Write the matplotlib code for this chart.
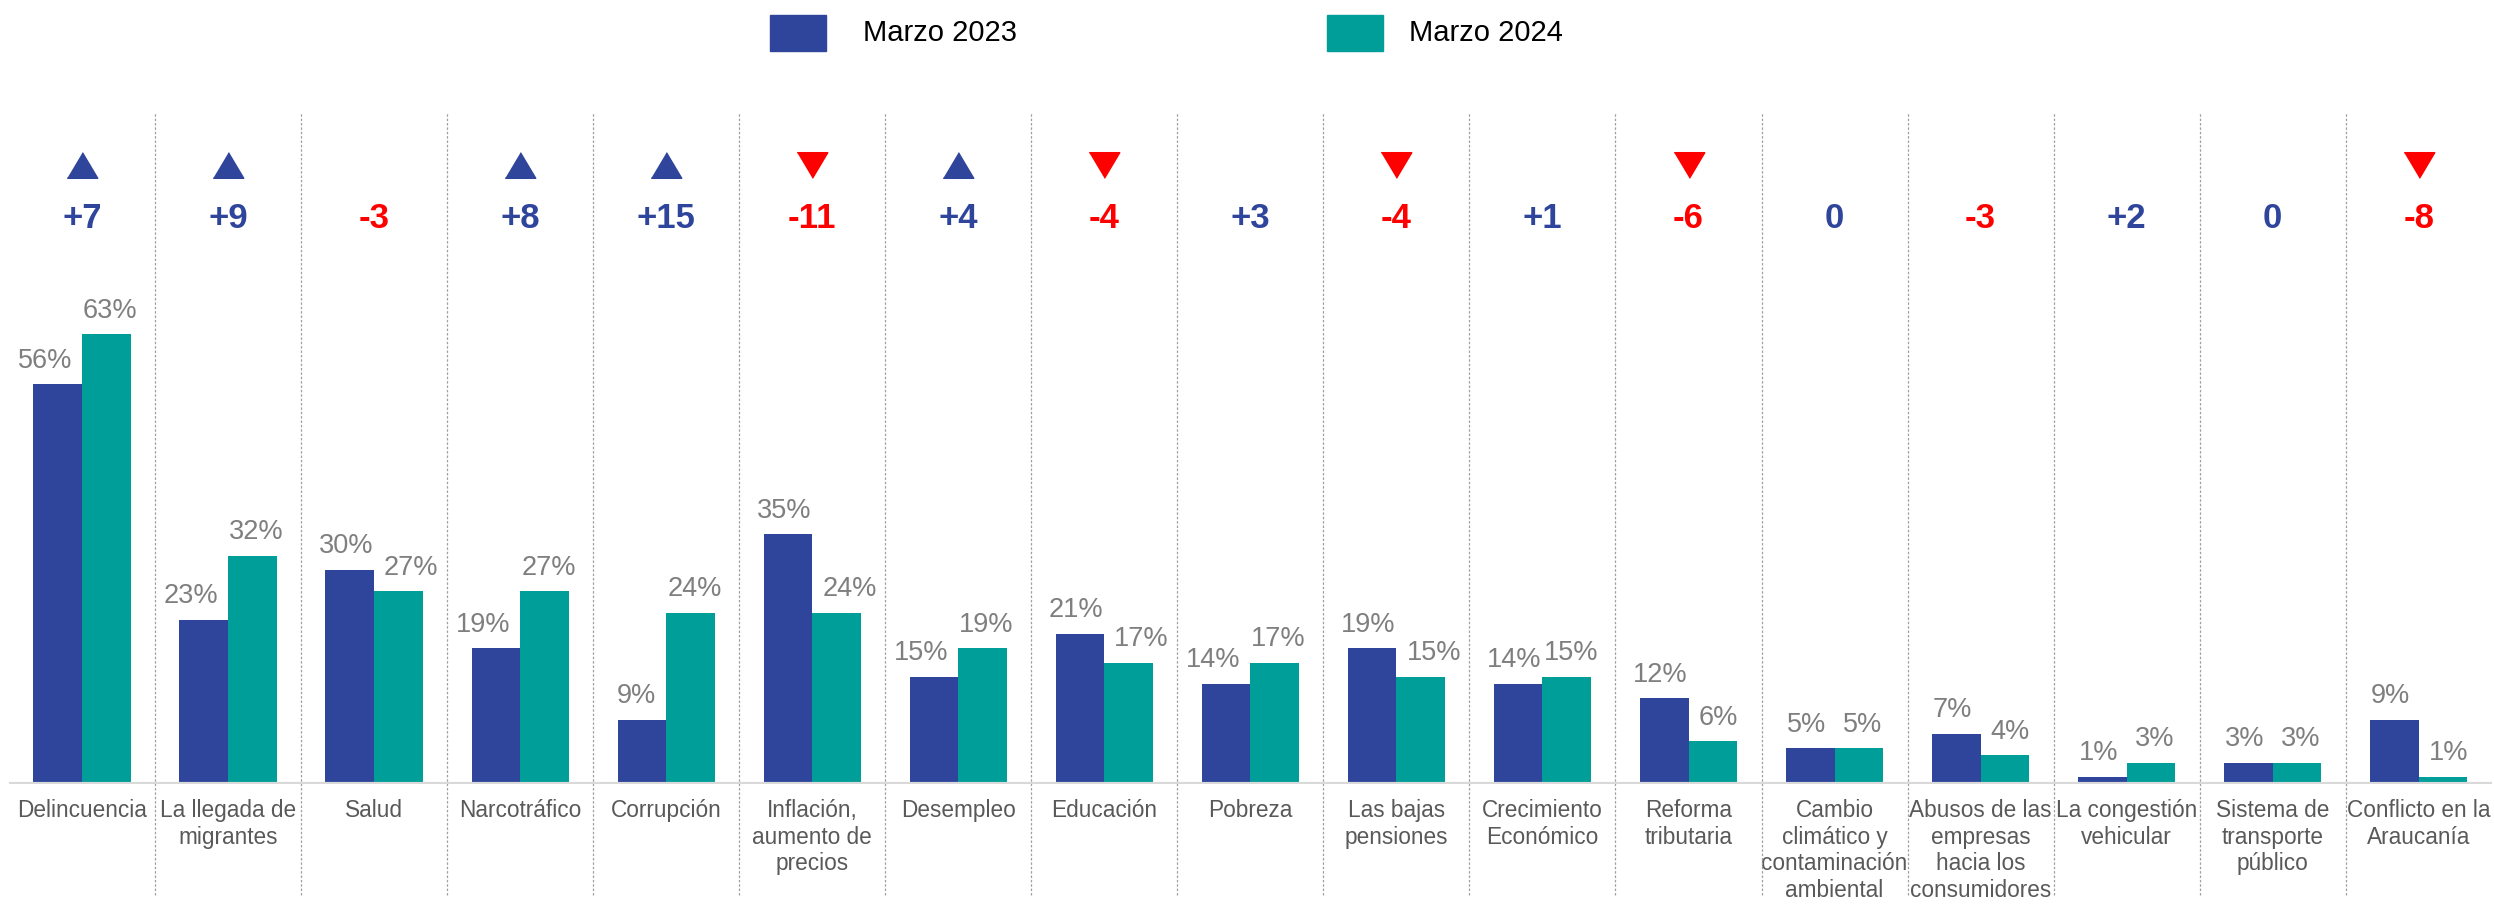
import numpy as np
import matplotlib.pyplot as plt
from matplotlib.patches import Rectangle

plt.rcParams['font.family'] = ['Liberation Sans', 'DejaVu Sans']

categorias = ['Delincuencia', 'La llegada de\nmigrantes', 'Salud', 'Narcotráfico', 'Corrupción',
              'Inflación,\naumento de\nprecios', 'Desempleo', 'Educación', 'Pobreza',
              'Las bajas\npensiones', 'Crecimiento\nEconómico', 'Reforma\ntributaria',
              'Cambio\nclimático y\ncontaminación\nambiental',
              'Abusos de las\nempresas\nhacia los\nconsumidores',
              'La congestión\nvehicular', 'Sistema de\ntransporte\npúblico',
              'Conflicto en la\nAraucanía']
series = ['Marzo 2023', 'Marzo 2024']
marzo_2023 = [56, 23, 30, 19, 9, 35, 15, 21, 14, 19, 14, 12, 5, 7, 1, 3, 9]
marzo_2024 = [63, 32, 27, 27, 24, 24, 19, 17, 17, 15, 15, 6, 5, 4, 3, 3, 1]
diferencia = [7, 9, -3, 8, 15, -11, 4, -4, 3, -4, 1, -6, 0, -3, 2, 0, -8]
# flecha de cambio significativo: 1 sube, -1 baja, 0 nada
flecha = [1, 1, 0, 1, 1, -1, 1, -1, 0, -1, 0, -1, 0, 0, 0, 0, -1]

azul = '#2F459B'
verde = '#009E99'
rojo = '#FF0000'
gris = '#7F7F7F'

fig = plt.figure(figsize=(24.94, 9.05), dpi=100)
ax = fig.add_axes([0.0036, 0.1337, 0.9955, 0.749])

x = np.arange(len(categorias))
w = 0.333
ax.bar(x - w / 2, marzo_2023, w, color=azul)
ax.bar(x + w / 2, marzo_2024, w, color=verde)

ax.set_xlim(-0.5, len(categorias) - 0.5)
ax.set_ylim(0, 95)

# etiquetas de porcentaje; se corren a un lado si chocan con la barra vecina
etiquetas = []
for i in range(len(categorias)):
    for v, otro, lado in ((marzo_2023[i], marzo_2024[i], -1), (marzo_2024[i], marzo_2023[i], 1)):
        t = ax.annotate(f'{v}%', (i + lado * w / 2, v), xytext=(0, 12), textcoords='offset points',
                        ha='center', va='baseline', fontsize=19.5, color=gris)
        etiquetas.append((t, v, otro, lado))

fig.canvas.draw()
r = fig.canvas.get_renderer()
bar_px = w * ax.get_window_extent().width / len(categorias)
for t, v, otro, lado in etiquetas:
    ancho = t.get_window_extent(r).width
    dx = 4
    if otro - v > 2:
        dx += max(0, ancho / 2 - bar_px / 2 + 6)
    t.xyann = (lado * dx * 0.72, 12)

# separadores
ax.vlines(x[:-1] + 0.5, -15.5, 94, colors='#A0A0A0', linestyles=(0, (2, 1.5)), linewidth=0.9, clip_on=False)
ax.axhline(0, color='#D9D9D9', linewidth=3, zorder=3)

for i, d in enumerate(diferencia):
    txt = f'+{d}' if d > 0 else str(d)
    col = rojo if d < 0 else azul
    ax.text(i, 79.3, txt, ha='center', va='center', fontsize=25, fontweight='bold', color=col)
    if flecha[i] == 1:
        ax.plot(i, 86.8, marker=[(-1, -0.84), (1, -0.84), (0, 0.84)], markersize=22, color=azul)
    elif flecha[i] == -1:
        ax.plot(i, 86.8, marker=[(-1, 0.84), (1, 0.84), (0, -0.84)], markersize=22, color=rojo)

ax.set_xticks(x)
ax.set_xticklabels(categorias, fontsize=16.3, color='#595959', linespacing=1.19)
ax.tick_params(axis='x', length=0, pad=11)
ax.set_yticks([])
for s in ax.spines.values():
    s.set_visible(False)

# leyenda
W, H = 2494, 905
for (x0, xt), nombre, col in zip([(770, 863), (1327, 1409)], series, [azul, verde]):
    fig.patches.append(Rectangle((x0 / W, 1 - 51 / H), 56 / W, 36 / H, color=col,
                                 transform=fig.transFigure, figure=fig))
    fig.text(xt / W, 1 - 33 / H, nombre, fontsize=21, va='center', ha='left', color='black')

fig.savefig('out.png', dpi=100)
